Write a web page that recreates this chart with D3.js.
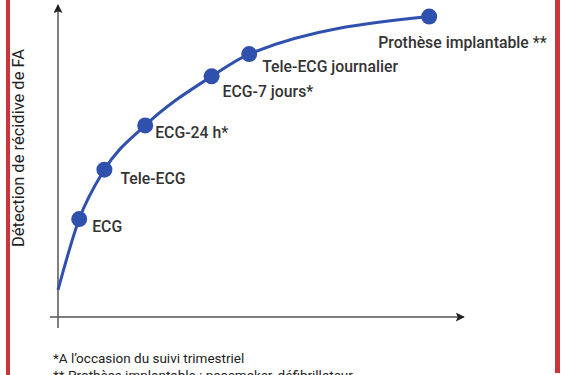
<!DOCTYPE html>
<html>
<head>
<meta charset="utf-8">
<script src="https://cdn.jsdelivr.net/npm/d3@7.9.0/dist/d3.min.js"></script>
<style>
  html, body { margin: 0; padding: 0; background: #fff; }
  svg { display: block; }
  .lbl { font-family: Roboto, sans-serif; font-weight: 500; font-size: 15.8px; fill: #333; }
</style>
</head>
<body>
<svg id="chart" width="567" height="375"></svg>
<script>
// data (arbitrary units, 0-100)
const methods = ['', 'ECG', 'Tele-ECG', 'ECG-24 h*', 'ECG-7 jours*', 'Tele-ECG journalier', 'Prothèse implantable **'];
const xValues = [0, 5.3, 11.6, 21.8, 38.4, 47.8, 92.8];
const yValues = [8.9, 32.1, 48.3, 62.8, 78.9, 86.2, 98.5];
const yTitle = 'Détection de récidive de FA';
const notes = ['*A l\u2019occasion du suivi trimestriel', '** Prothèse implantable : pacemaker, défibrillateur'];

const svg = d3.select('#chart');
const blue = '#3050ae';

let x = d3.scaleLinear().domain([0, 100]).range([58, 458]);
let y = d3.scaleLinear().domain([0, 100]).range([317, 12]);

// red frame
svg.append('rect').attr('x', 6).attr('y', 0).attr('width', 4).attr('height', 375).attr('fill', '#c9353a');
svg.append('rect').attr('x', 555).attr('y', 0).attr('width', 5).attr('height', 373).attr('fill', '#c9353a');

// arrow markers
svg.append('defs').append('marker')
    .attr('id', 'arr')
    .attr('viewBox', '0 0 10 10')
    .attr('refX', 9).attr('refY', 5)
    .attr('markerWidth', 11).attr('markerHeight', 9)
    .attr('markerUnits', 'userSpaceOnUse')
    .attr('orient', 'auto')
    .append('path')
    .attr('d', 'M0,0 L10,5 L0,10 L2,5 Z')
    .attr('fill', '#222');

// axes
svg.append('line')
    .attr('x1', x(0)).attr('y1', 328)
    .attr('x2', x(0)).attr('y2', 5)
    .attr('stroke', '#555').attr('stroke-width', 1.5)
    .attr('marker-end', 'url(#arr)');
svg.append('line')
    .attr('x1', 50).attr('y1', y(0))
    .attr('x2', 464).attr('y2', y(0))
    .attr('stroke', '#555').attr('stroke-width', 1.5)
    .attr('marker-end', 'url(#arr)');

svg.append('text')
    .attr('transform', `translate(24,${148}) rotate(-90)`)
    .attr('text-anchor', 'middle')
    .style('font-family', 'Roboto, sans-serif')
    .style('font-size', '16.5px')
    .style('fill', '#222')
    .text(yTitle);

// curve
let pts = xValues.map((v, i) => [x(v), y(yValues[i])]);
let line = d3.line().curve(d3.curveMonotoneX);
svg.append('path')
    .attr('d', line(pts))
    .attr('fill', 'none')
    .attr('stroke', blue)
    .attr('stroke-width', 3);

// dots
svg.selectAll('circle.dot')
    .data(pts.slice(1))
    .join('circle')
    .attr('class', 'dot')
    .attr('cx', d => d[0])
    .attr('cy', d => d[1])
    .attr('r', 8)
    .attr('fill', blue);

// labels
const offsets = [[0, 0], [13, 13], [16, 14], [10, 13], [11, 21], [13, 18], [-51, 31]];
methods.forEach((m, i) => {
    if (!m) return;
    svg.append('text')
        .attr('class', 'lbl')
        .attr('x', pts[i][0] + offsets[i][0])
        .attr('y', pts[i][1] + offsets[i][1])
        .text(m);
});

// footnotes
notes.forEach((n, i) => {
    svg.append('text')
        .attr('x', 53)
        .attr('y', 363 + i * 17)
        .style('font-family', 'Roboto, sans-serif')
        .style('font-size', '13.5px')
        .style('fill', '#222')
        .text(n);
});
</script>
</body>
</html>
